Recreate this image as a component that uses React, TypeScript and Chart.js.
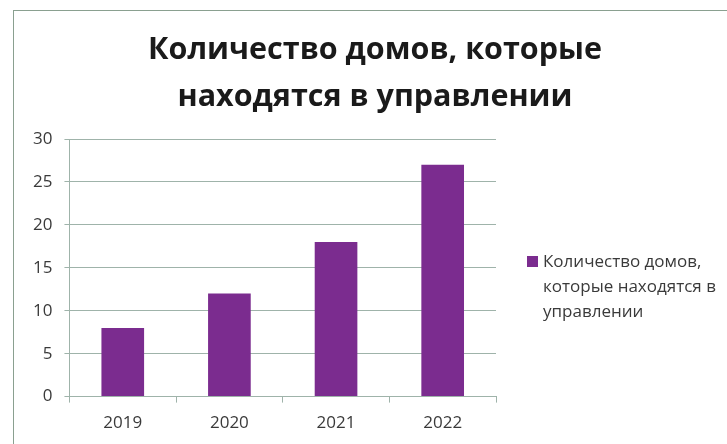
import React, { useEffect, useRef } from "react";
import { Chart, registerables } from "chart.js";

Chart.register(...registerables);

const categories = ["2019", "2020", "2021", "2022"];
const seriesName = "Количество домов, которые находятся в управлении";
const seriesValues = [8, 12, 18, 27];
const titleLines = ["Количество домов, которые", "находятся в управлении"];
const legendLines = ["Количество домов,", "которые находятся в", "управлении"];

const BAR = "#7B2C8F";
const GRID = "#9fb3aa";
const TEXT = "#3a3a3a";
const FONT = "'Open Sans', 'Noto Sans', sans-serif";

const textPlugin = {
  id: "wrapTexts",
  afterDraw(chart: any) {
    const ctx = chart.ctx;
    const ds = chart.data.datasets[0];
    ctx.save();
    // title
    ctx.fillStyle = "#1a1a1a";
    ctx.font = `bold 30.5px ${FONT}`;
    ctx.textBaseline = "middle";
    ctx.textAlign = "center";
    titleLines.forEach((l, i) => ctx.fillText(l, 375, 50 + i * 47));
    // legend
    ctx.fillStyle = ds.backgroundColor;
    ctx.fillRect(527, 256, 11, 11);
    ctx.fillStyle = TEXT;
    ctx.font = `17px ${FONT}`;
    ctx.textAlign = "left";
    legendLines.forEach((l, i) => ctx.fillText(l, 543, 262 + i * 25));
    ctx.restore();
  },
};

export default function App() {
  const ref = useRef<HTMLCanvasElement>(null);
  useEffect(() => {
    if (!ref.current) return;
    const chart = new Chart(ref.current, {
      type: "bar",
      data: {
        labels: categories,
        datasets: [
          {
            label: seriesName,
            data: seriesValues,
            backgroundColor: BAR,
            categoryPercentage: 0.4,
            barPercentage: 1,
          },
        ],
      },
      options: {
        animation: false,
        responsive: false,
        layout: { padding: { left: 21, right: 231, top: 139, bottom: 1 } },
        plugins: {
          legend: { display: false },
          tooltip: { enabled: false },
          title: { display: false },
        },
        scales: {
          x: {
            grid: {
              offset: true,
              drawOnChartArea: false,
              drawTicks: true,
              tickLength: 6,
              color: GRID,
            },
            border: { display: true, color: GRID },
            ticks: { color: TEXT, font: { family: FONT, size: 17 }, padding: 10 },
          },
          y: {
            min: 0,
            max: 30,
            ticks: { stepSize: 5, color: TEXT, font: { family: FONT, size: 17 }, padding: 12 },
            grid: { color: GRID, tickLength: 5 },
            border: { display: true, color: GRID },
          },
        },
      },
      plugins: [textPlugin],
    });
    return () => chart.destroy();
  }, []);
  return (
    <div style={{ position: "fixed", left: 0, top: 0, width: 727, height: 444, background: "#fff" }}>
      <div
        style={{
          position: "absolute",
          left: 13,
          top: 10,
          right: 0,
          bottom: 0,
          borderLeft: "1px solid #8aa090",
          borderTop: "1px solid #8aa090",
        }}
      />
      <canvas ref={ref} width={727} height={444} style={{ position: "absolute", left: 0, top: 0 }} />
    </div>
  );
}
